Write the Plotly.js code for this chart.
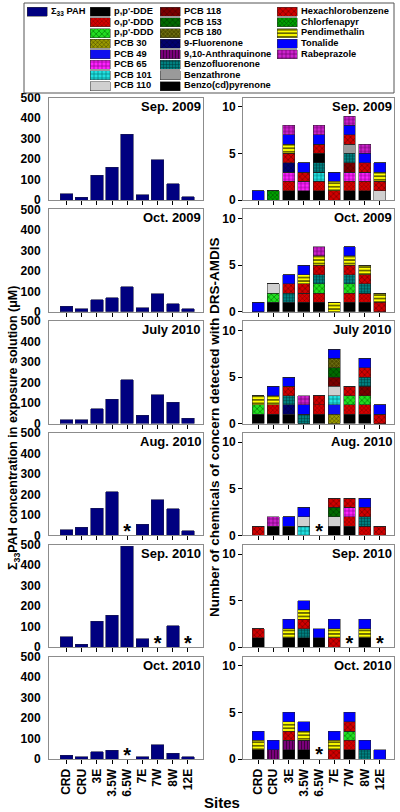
<!DOCTYPE html>
<html>
<head>
<meta charset="utf-8">
<script src="https://cdn.plot.ly/plotly-3.0.1.min.js"></script>
<style>html,body{margin:0;padding:0;background:#fff;}#chart{width:400px;height:812px;}</style>
</head>
<body>
<div id="chart"></div>
<script>
// ---------------- DATA ----------------
const sites = ["CRD","CRU","3E","3.5W","6.5W","7E","7W","8W","12E"];
const periods = ["Sep. 2009","Oct. 2009","July 2010","Aug. 2010","Sep. 2010","Oct. 2010"];

// Σ33 PAH concentration (μM); null = not sampled (*)
const pahSep2009 = [30, 13, 120, 160, 320, 25, 197, 80, 15];
const pahOct2009 = [28, 14, 58, 68, 122, 20, 87, 40, 16];
const pahJul2010 = [20, 18, 72, 120, 215, 40, 140, 105, 25];
const pahAug2010 = [28, 40, 132, 212, null, 55, 175, 130, 22];
const pahSep2010 = [52, 15, 127, 155, 492, 42, null, 105, null];
const pahOct2010 = [18, 10, 36, 43, null, 11, 69, 28, 10];

const chemicals = ["p,p'-DDE","o,p'-DDD","p,p'-DDD","PCB 30","PCB 49","PCB 65","PCB 101","PCB 110",
  "PCB 118","PCB 153","PCB 180","9-Fluorenone","9,10-Anthraquinone","Benzofluorenone","Benzathrone","Benzo(cd)pyrenone",
  "Hexachlorobenzene","Chlorfenapyr","Pendimethalin","Tonalide","Rabeprazole"];
const chemCodes = ["DDE","OPDDD","PPDDD","P30","P49","P65","P101","P110",
  "P118","P153","P180","FLU","ANQ","BFL","BZA","BCP",
  "HCB","CFP","PEN","TON","RAB"];

// chemicals detected per site (bottom to top); null = not sampled (*)
const detSep2009 = [["TON"],["CFP"],["DDE","OPDDD","P65","FLU","HCB","PEN","TON","RAB"],["DDE","P65","HCB","TON"],
  ["DDE","OPDDD","P101","BFL","BCP","HCB","TON","RAB"],["HCB","PEN","TON"],
  ["DDE","OPDDD","P65","P118","BFL","BZA","HCB","TON","RAB"],["DDE","OPDDD","P65","HCB","TON","RAB"],["P110","HCB","PEN","TON"]];
const detOct2009 = [["TON"],["DDE","PPDDD","P110"],["DDE","BFL","HCB","TON"],["DDE","OPDDD","HCB","PEN","TON"],
  ["DDE","OPDDD","PPDDD","BFL","HCB","PEN","RAB"],["PEN"],["DDE","OPDDD","PPDDD","BFL","HCB","PEN","TON"],
  ["DDE","OPDDD","BFL","HCB","PEN"],["HCB","PEN"]];
const detJul2010 = [["DDE","PPDDD","PEN"],["DDE","OPDDD","PEN","TON"],["DDE","FLU","BFL","HCB","TON"],["BFL","TON","RAB"],
  ["DDE","OPDDD","HCB"],["P30","P49","P101","P110","P118","P153","P180","TON"],["DDE","OPDDD","PPDDD","HCB"],
  ["DDE","OPDDD","PPDDD","P118","BFL","HCB","TON"],["HCB","TON"]];
const detAug2010 = [["HCB"],["DDE","RAB"],["DDE","TON"],["P101","P110","TON"],null,["DDE","P110","P153","HCB"],
  ["DDE","OPDDD","P65","HCB"],["OPDDD","BFL","HCB","TON"],["HCB"]];
const detSep2010 = [["DDE","HCB"],[],["DDE","PEN","TON"],["DDE","BFL","HCB","PEN","TON"],["DDE","TON"],["HCB","PEN","TON"],
  null,["DDE","PEN","TON"],null];
const detOct2010 = [["DDE","PEN","TON"],["ANQ","TON"],["DDE","ANQ","HCB","PEN","TON"],["DDE","ANQ","PEN","TON"],null,
  ["HCB","PEN","TON"],["DDE","OPDDD","PPDDD","HCB","TON"],["BFL","TON"],["TON"]];

const pahSets = [pahSep2009, pahOct2009, pahJul2010, pahAug2010, pahSep2010, pahOct2010];
const detSets = [detSep2009, detOct2009, detJul2010, detAug2010, detSep2010, detOct2010];

// ---------------- STYLES ----------------
const FONT = "Liberation Sans, Arial, Helvetica, sans-serif";
const PAH_COLOR = "#000080";
const AXIS_COLOR = "#8c8c8c";
const chemStyle = {
  "DDE":  {c:"#000000", s:"",  f:"#000000", z:4},
  "OPDDD":{c:"#d40000", s:"x", f:"#7a0000", z:3},
  "PPDDD":{c:"#22dd22", s:"x", f:"#007700", z:4},
  "P30":  {c:"#9a9a00", s:"x", f:"#3d3d00", z:3},
  "P49":  {c:"#1010ee", s:"",  f:"#000000", z:4},
  "P65":  {c:"#ff22ff", s:"+", f:"#880088", z:4},
  "P101": {c:"#22e0e0", s:"+", f:"#007777", z:4},
  "P110": {c:"#d0d0d0", s:"",  f:"#000000", z:4},
  "P118": {c:"#7a0000", s:"x", f:"#4a0000", z:4},
  "P153": {c:"#006a00", s:"x", f:"#003a00", z:4},
  "P180": {c:"#4d4d00", s:"x", f:"#8a8a22", z:3},
  "FLU":  {c:"#00006e", s:"x", f:"#000040", z:4},
  "ANQ":  {c:"#7a007a", s:"|", f:"#3a003a", z:3},
  "BFL":  {c:"#008080", s:"+", f:"#003838", z:3},
  "BZA":  {c:"#9a9a9a", s:"",  f:"#000000", z:4},
  "BCP":  {c:"#000000", s:"",  f:"#000000", z:4},
  "HCB":  {c:"#d00000", s:"x", f:"#700000", z:4},
  "CFP":  {c:"#00a000", s:"x", f:"#004000", z:3},
  "PEN":  {c:"#ffff00", s:"-", f:"#000000", z:3.5},
  "TON":  {c:"#0000ff", s:"",  f:"#000000", z:4},
  "RAB":  {c:"#cc22cc", s:"+", f:"#660066", z:4}
};

// ---------------- GEOMETRY ----------------
const W = 400, H = 812;
const leftX = [49, 203], rightX = [243, 394];
const panelTop0 = 97.5, panelStep = 111.8, panelH = 102.5;
const leftRange = [-1.15, 8.99], rightRange = [-1.0, 8.93];

const traces = [];
const layout = {
  width: W, height: H, margin: {l:0, r:0, t:0, b:0},
  paper_bgcolor: "#fff", plot_bgcolor: "#fff",
  barmode: "stack", showlegend: false, bargap: 0,
  font: {family: FONT, size: 12, color: "#000", weight: "bold"},
  annotations: [], shapes: []
};
const ax = n => (n === 1 ? "" : String(n));
const tickFont = {family: FONT, size: 12, weight: "bold", color: "#000"};

periods.forEach((per, i) => {
  const top = panelTop0 + i * panelStep, bot = top + panelH;
  const yd = [1 - bot / H, 1 - top / H];
  const nL = 2 * i + 1, nR = 2 * i + 2;
  const common = {
    type: "category", categoryorder: "array", categoryarray: sites,
    showline: true, mirror: true, linecolor: AXIS_COLOR, linewidth: 1,
    ticks: "outside", ticklen: 4, tickcolor: "#000", tickwidth: 1,
    showticklabels: i === periods.length - 1, tickangle: -90, tickfont: tickFont,
    showgrid: false, zeroline: false, fixedrange: true
  };
  layout["xaxis" + ax(nL)] = Object.assign({}, common, {domain: [leftX[0]/W, leftX[1]/W], anchor: "y" + ax(nL), range: leftRange});
  layout["xaxis" + ax(nR)] = Object.assign({}, common, {domain: [rightX[0]/W, rightX[1]/W], anchor: "y" + ax(nR), range: rightRange});
  layout["yaxis" + ax(nL)] = {
    domain: yd, anchor: "x" + ax(nL), range: [0, 500], tickvals: [0,100,200,300,400,500],
    showline: true, mirror: true, linecolor: AXIS_COLOR, ticks: "outside", ticklen: 5, tickcolor: "rgba(0,0,0,0)",
    tickfont: tickFont, showgrid: false, zeroline: false, fixedrange: true
  };
  layout["yaxis" + ax(nR)] = {
    domain: yd, anchor: "x" + ax(nR), range: [0, 11], tickvals: [0,5,10],
    showline: true, mirror: true, linecolor: AXIS_COLOR, ticks: "outside", ticklen: 4, tickcolor: "#000",
    tickfont: tickFont, showgrid: false, zeroline: false, fixedrange: true
  };

  // PAH bars
  traces.push({type: "bar", x: sites, y: pahSets[i], xaxis: "x" + ax(nL), yaxis: "y" + ax(nL), width: 0.82,
    marker: {color: PAH_COLOR, line: {color: "#1a1a4a", width: 0.6}}, hoverinfo: "skip"});

  // chemical stacks
  const det = detSets[i];
  chemCodes.forEach((code, k) => {
    const y = det.map(s => (s ? s.filter(v => v === code).length : 0));
    if (!y.some(v => v > 0)) return;
    const st = chemStyle[code];
    traces.push({type: "bar", name: chemicals[k], x: sites, y: y, xaxis: "x" + ax(nR), yaxis: "y" + ax(nR), width: 0.78,
      marker: {color: st.c, line: {color: "#222", width: 0.5},
        pattern: {shape: st.s, fgcolor: st.f, bgcolor: st.c, size: st.z, solidity: 0.3}},
      hoverinfo: "skip"});
  });

  // asterisks for unsampled sites
  const miss = sites.filter((s, j) => pahSets[i][j] === null);
  if (miss.length) {
    traces.push({type: "scatter", mode: "text", x: miss, y: miss.map(() => 12), text: miss.map(() => "*"),
      xaxis: "x" + ax(nL), yaxis: "y" + ax(nL), textposition: "middle center",
      textfont: {family: FONT, size: 20, weight: "bold", color: "#000"}, hoverinfo: "skip", cliponaxis: false});
  }
  const missR = sites.filter((s, j) => det[j] === null);
  if (missR.length) {
    traces.push({type: "scatter", mode: "text", x: missR, y: missR.map(() => 0.27), text: missR.map(() => "*"),
      xaxis: "x" + ax(nR), yaxis: "y" + ax(nR), textposition: "middle center",
      textfont: {family: FONT, size: 20, weight: "bold", color: "#000"}, hoverinfo: "skip", cliponaxis: false});
  }

  // panel labels
  [nL, nR].forEach(n => {
    layout.annotations.push({text: "<b>" + per + "</b>", xref: "x" + ax(n) + " domain", yref: "y" + ax(n) + " domain",
      x: 1.0, y: 1 - 8.5 / panelH, xanchor: "right", yanchor: "middle", showarrow: false,
      font: {family: FONT, size: 13, color: "#000"}});
  });
});

// ---------------- LEGEND (own subplot) ----------------
const LG = 13;
layout["xaxis" + LG] = {domain: [0, 1], range: [0, W], visible: false, fixedrange: true, anchor: "y" + LG};
layout["yaxis" + LG] = {domain: [1 - 95 / H, 1], range: [95, 0], visible: false, fixedrange: true, anchor: "x" + LG};
const legendCols = [
  {sx: 27, items: [{name: "Σ<sub>33</sub> PAH", code: null}]},
  {sx: 90, items: chemicals.slice(0, 8).map((n, k) => ({name: n, code: chemCodes[k]}))},
  {sx: 160, items: chemicals.slice(8, 16).map((n, k) => ({name: n, code: chemCodes[k + 8]}))},
  {sx: 277, items: chemicals.slice(16).map((n, k) => ({name: n, code: chemCodes[k + 16]}))}
];
const rowY0 = 11.8, rowStep = 10.6, swW = 20, swH = 9, txtGap = 4;
const lt = {x: [], y: [], t: []};
legendCols.forEach(col => col.items.forEach((it, r) => {
  const st = it.code ? chemStyle[it.code] : {c: PAH_COLOR, s: "", f: "#000", z: 4};
  const yy = rowY0 + r * rowStep;
  traces.push({type: "bar", orientation: "h", y: [yy], x: [swW], base: [col.sx], width: swH,
    xaxis: "x" + LG, yaxis: "y" + LG, hoverinfo: "skip",
    marker: {color: st.c, line: {color: "#333", width: 0.5},
      pattern: {shape: st.s, fgcolor: st.f, bgcolor: st.c, size: st.z, solidity: 0.3}}});
  lt.x.push(col.sx + swW + txtGap); lt.y.push(yy); lt.t.push(it.name);
}));
traces.push({type: "scatter", mode: "text", x: lt.x, y: lt.y, text: lt.t, textposition: "middle right",
  xaxis: "x" + LG, yaxis: "y" + LG, hoverinfo: "skip", cliponaxis: false,
  textfont: {family: FONT, size: 9.3, weight: "bold", color: "#000"}});
layout.shapes.push({type: "rect", xref: "x" + LG, yref: "y" + LG, x0: 24, x1: 394, y0: 3, y1: 93,
  line: {color: "#555", width: 1}, fillcolor: "rgba(0,0,0,0)"});

// ---------------- AXIS TITLES ----------------
layout.annotations.push({text: "<b>Σ<sub>33</sub>PAH concentration in exposure solution (μM)</b>", xref: "paper", yref: "paper",
  x: 14 / W, y: 1 - 428 / H, textangle: -90, showarrow: false, xanchor: "center", yanchor: "middle",
  font: {family: FONT, size: 12.5, color: "#000"}});
layout.annotations.push({text: "<b>Number of chemicals of concern detected with DRS-AMDIS</b>", xref: "paper", yref: "paper",
  x: 214 / W, y: 1 - 427 / H, textangle: -90, showarrow: false, xanchor: "center", yanchor: "middle",
  font: {family: FONT, size: 13.5, color: "#000"}});
layout.annotations.push({text: "<b>Sites</b>", xref: "paper", yref: "paper", x: 222 / W, y: 1 - 802 / H,
  showarrow: false, xanchor: "center", yanchor: "middle", font: {family: FONT, size: 15, color: "#000"}});

Plotly.newPlot("chart", traces, layout, {staticPlot: true, displayModeBar: false});
</script>
</body>
</html>
